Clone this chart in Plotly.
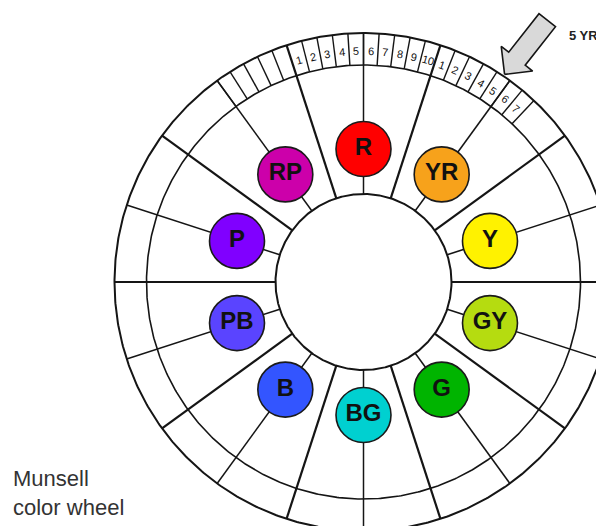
import numpy as np
import plotly.graph_objects as go

# ---------------- data ----------------
hue_names = ["R", "YR", "Y", "GY", "G", "BG", "B", "PB", "P", "RP"]
hue_angles = [90, 54, 18, -18, -54, -90, -126, -162, -198, -234]   # degrees, counter-clockwise from east
hue_colors = ["#ff0000", "#f7a21b", "#fff200", "#b5dc10", "#00b400",
              "#00d0d0", "#3355ff", "#5a44ff", "#8000ff", "#cc00aa"]
border_angles = [72, 36, 0, -36, -72, -108, -144, -180, -216, -252]

r_labels = ["1", "2", "3", "4", "5", "6", "7", "8", "9", "10"]   # steps of R
yr_labels = ["1", "2", "3", "4", "5", "6", "7"]                 # steps of YR shown
rp_ticks = 5                                                    # unlabeled steps shown in RP
step_deg = 3.6

caption = "Munsell<br>color wheel"
arrow_label = "5 YR"

# ---------------- geometry ----------------
R_OUT, R_MID, R_IN, R_HUE, R_NUM = 249, 217, 88, 133, 231
LINE = "#151515"
OFF = 8  # page body margin


def pol(r, deg):
    a = np.deg2rad(deg)
    return r * np.cos(a), r * np.sin(a)


def segs(pairs):
    xs, ys = [], []
    for (r0, a0, r1, a1) in pairs:
        x0, y0 = pol(r0, a0)
        x1, y1 = pol(r1, a1)
        xs += [x0, x1, None]
        ys += [y0, y1, None]
    return xs, ys


fig = go.Figure()

# circles
t = np.linspace(0, 360, 721)
for r, w in [(R_OUT, 2.0), (R_MID, 1.6), (R_IN, 2.0)]:
    cx, cy = pol(r, t)
    fig.add_trace(go.Scatter(x=cx, y=cy, mode="lines", line=dict(color=LINE, width=w),
                             hoverinfo="skip", showlegend=False))

# thick sector borders
bx, by = segs([(R_IN, a, R_OUT, a) for a in border_angles])
fig.add_trace(go.Scatter(x=bx, y=by, mode="lines", line=dict(color=LINE, width=2.2),
                         hoverinfo="skip", showlegend=False))

# hue lines
hx, hy = segs([(R_IN, a, R_OUT, a) for a in hue_angles])
fig.add_trace(go.Scatter(x=hx, y=hy, mode="lines", line=dict(color=LINE, width=1.5),
                         hoverinfo="skip", showlegend=False))

# band ticks
r_start = hue_angles[0] + 18           # R sector left border
yr_start = hue_angles[1] + 18          # YR sector left border
tick_angles = [r_start - step_deg * k for k in range(1, len(r_labels))]
tick_angles += [yr_start - step_deg * k for k in range(1, len(yr_labels) + 1)]
tick_angles += [r_start + step_deg * k for k in range(1, rp_ticks + 1)]
tx, ty = segs([(R_MID, a, R_OUT, a) for a in tick_angles])
fig.add_trace(go.Scatter(x=tx, y=ty, mode="lines", line=dict(color=LINE, width=1.4),
                         hoverinfo="skip", showlegend=False))

# arrow pointing at 5 YR
tip_ang = yr_start - step_deg * 4.5
tipx, tipy = pol(R_OUT + 2, tip_ang)
u = np.deg2rad(tip_ang - 4)
ux, uy = np.cos(u), np.sin(u)
px, py = -uy, ux
shape = [(0, 0), (20, 20), (20, 10.5), (69, 10.5), (69, -10.5), (20, -10.5), (20, -20), (0, 0)]
ax = [tipx + a * ux + b * px for a, b in shape]
ay = [tipy + a * uy + b * py for a, b in shape]
fig.add_trace(go.Scatter(x=ax, y=ay, mode="lines", fill="toself", fillcolor="#d9d9d9",
                         line=dict(color=LINE, width=1.6), hoverinfo="skip", showlegend=False))

# hue discs
hcx, hcy = pol(R_HUE, np.array(hue_angles))
fig.add_trace(go.Scatter(
    x=hcx, y=hcy, mode="markers+text",
    marker=dict(size=55, color=hue_colors, line=dict(color="#1a1a1a", width=1.6)),
    text=["<b>%s</b>" % n for n in hue_names], textposition="middle center",
    textfont=dict(family="Liberation Sans, Arial, sans-serif", size=24, color="#111"),
    hoverinfo="skip", showlegend=False))

annotations = []
for i, lab in enumerate(r_labels):
    a = r_start - step_deg * (i + 0.5)
    x, y = pol(R_NUM, a)
    annotations.append(dict(x=x, y=y, text=lab, showarrow=False, textangle=90 - a,
                            font=dict(family="Liberation Sans, Arial", size=11, color="#111")))
for i, lab in enumerate(yr_labels):
    a = yr_start - step_deg * (i + 0.5)
    x, y = pol(R_NUM, a)
    annotations.append(dict(x=x, y=y, text=lab, showarrow=False, textangle=90 - a,
                            font=dict(family="Liberation Sans, Arial", size=11, color="#111")))

annotations.append(dict(x=219.5, y=247, text="<b>%s</b>" % arrow_label, showarrow=False,
                        font=dict(family="Liberation Sans Narrow, Arial Narrow, sans-serif",
                                  size=13, color="#222")))
annotations.append(dict(xref="paper", yref="paper", x=3 / 604, y=1 - 456 / 526,
                        xanchor="left", yanchor="top", align="left", text=caption,
                        showarrow=False,
                        font=dict(family="Liberation Sans, Arial, sans-serif", size=22, color="#333")))

fig.update_layout(
    width=604, height=526, margin=dict(l=0, r=0, t=0, b=0),
    paper_bgcolor="white", plot_bgcolor="white",
    xaxis=dict(range=[-363.5 + OFF, 240.5 + OFF], visible=False, fixedrange=True),
    yaxis=dict(range=[-244 - OFF, 282 - OFF], visible=False, fixedrange=True),
    annotations=annotations, showlegend=False,
)

fig.write_html("out.html")
